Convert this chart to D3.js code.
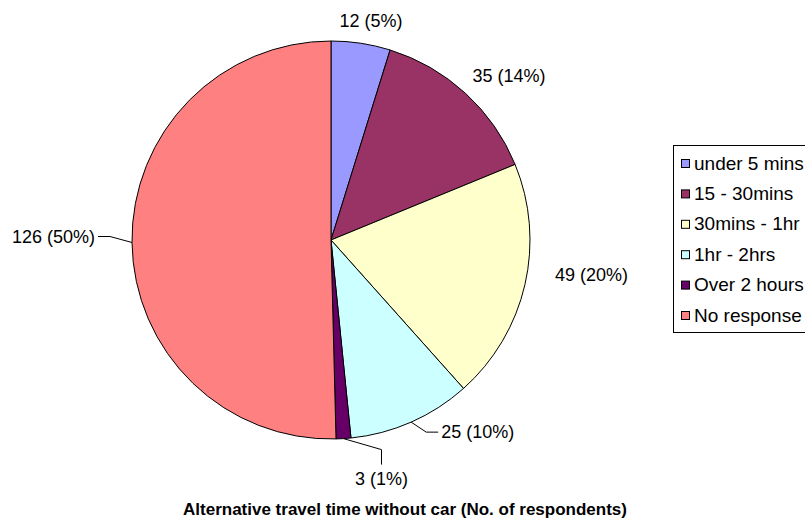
<!DOCTYPE html>
<html>
<head>
<meta charset="utf-8">
<script src="https://cdn.jsdelivr.net/npm/d3@7"></script>
<style>
  html, body { margin: 0; padding: 0; background: #fff; }
  svg { display: block; font-family: Arial, "Liberation Sans", sans-serif; }
</style>
</head>
<body>
<svg id="chart" width="805" height="525"></svg>
<script>
// Survey responses: alternative travel time without a car
const categories = ["under 5 mins", "15 - 30mins", "30mins - 1hr", "1hr - 2hrs", "Over 2 hours", "No response"];
const respondents = [12, 35, 49, 25, 3, 126];
const percentLabels = ["5%", "14%", "20%", "10%", "1%", "50%"];
const sliceColors = ["#9999FF", "#993366", "#FFFFCC", "#CCFFFF", "#660066", "#FF8080"];
const chartTitle = "Alternative travel time without car (No. of respondents)";

const svg = d3.select("#chart");
const cx = 331, cy = 240, radius = 199;

const color = d3.scaleOrdinal().domain(categories).range(sliceColors);
const pie = d3.pie().sort(null).value(d => d.value);
const rows = categories.map((c, i) => ({ name: c, value: respondents[i], pct: percentLabels[i] }));
const arcs = pie(rows);
const arc = d3.arc().innerRadius(0).outerRadius(radius);
const edge = d3.arc().innerRadius(radius).outerRadius(radius);

const g = svg.append("g").attr("transform", `translate(${cx},${cy})`);

g.selectAll("path.slice")
  .data(arcs)
  .enter().append("path")
  .attr("class", "slice")
  .attr("d", arc)
  .attr("fill", d => color(d.data.name))
  .attr("stroke", "#000")
  .attr("stroke-width", 1);

// Label placement relative to the point on the rim at each slice's mid-angle.
// "leader" holds the elbow path (relative to rim point) when the label is pulled away.
const labelLayout = {
  "under 5 mins": { dx: 10, dy: -23, anchor: "middle" },
  "15 - 30mins": { dx: 7, dy: -18, anchor: "start" },
  "30mins - 1hr": { dx: 30, dy: -10, anchor: "start" },
  "1hr - 2hrs":  { dx: 30, dy: 10, anchor: "start", leader: [[15, 10], [27, 10]] },
  "Over 2 hours": { dx: 38, dy: 40, anchor: "middle", leader: [[38, 11], [38, 26]] },
  "No response": { dx: -37, dy: -6, anchor: "end", leader: [[-22, -6], [-34, -6]] }
};

const labels = svg.append("g").attr("font-size", 18).attr("fill", "#000");
arcs.forEach(d => {
  const [px, py] = edge.centroid(d);
  const x0 = cx + px, y0 = cy + py;
  const L = labelLayout[d.data.name];
  if (L.leader) {
    const pts = [[x0, y0]].concat(L.leader.map(p => [x0 + p[0], y0 + p[1]]));
    labels.append("path")
      .attr("d", d3.line()(pts))
      .attr("fill", "none")
      .attr("stroke", "#000")
      .attr("stroke-width", 1);
  }
  labels.append("text")
    .attr("x", x0 + L.dx)
    .attr("y", y0 + L.dy)
    .attr("dy", "0.35em")
    .attr("text-anchor", L.anchor)
    .text(`${d.data.value} (${d.data.pct})`);
});

// Legend (its right edge runs past the canvas)
const legend = svg.append("g").attr("transform", "translate(673,145)");
legend.append("rect")
  .attr("x", 0.5).attr("y", 0.5)
  .attr("width", 160).attr("height", 187)
  .attr("fill", "#fff").attr("stroke", "#000").attr("stroke-width", 1);

const itemY = d3.scalePoint().domain(categories).range([18, 170]);
const item = legend.selectAll("g.item")
  .data(categories)
  .enter().append("g")
  .attr("class", "item")
  .attr("transform", d => `translate(0,${itemY(d)})`);
item.append("rect")
  .attr("x", 8.5).attr("y", -3.5)
  .attr("width", 8).attr("height", 8)
  .attr("fill", d => color(d))
  .attr("stroke", "#000").attr("stroke-width", 1);
item.append("text")
  .attr("x", 21).attr("y", 0).attr("dy", "0.35em")
  .attr("font-size", 19)
  .text(d => d);

// Title
svg.append("text")
  .attr("x", 405).attr("y", 509).attr("dy", "0.35em")
  .attr("text-anchor", "middle")
  .attr("font-size", 17).attr("font-weight", "bold")
  .text(chartTitle);
</script>
</body>
</html>
